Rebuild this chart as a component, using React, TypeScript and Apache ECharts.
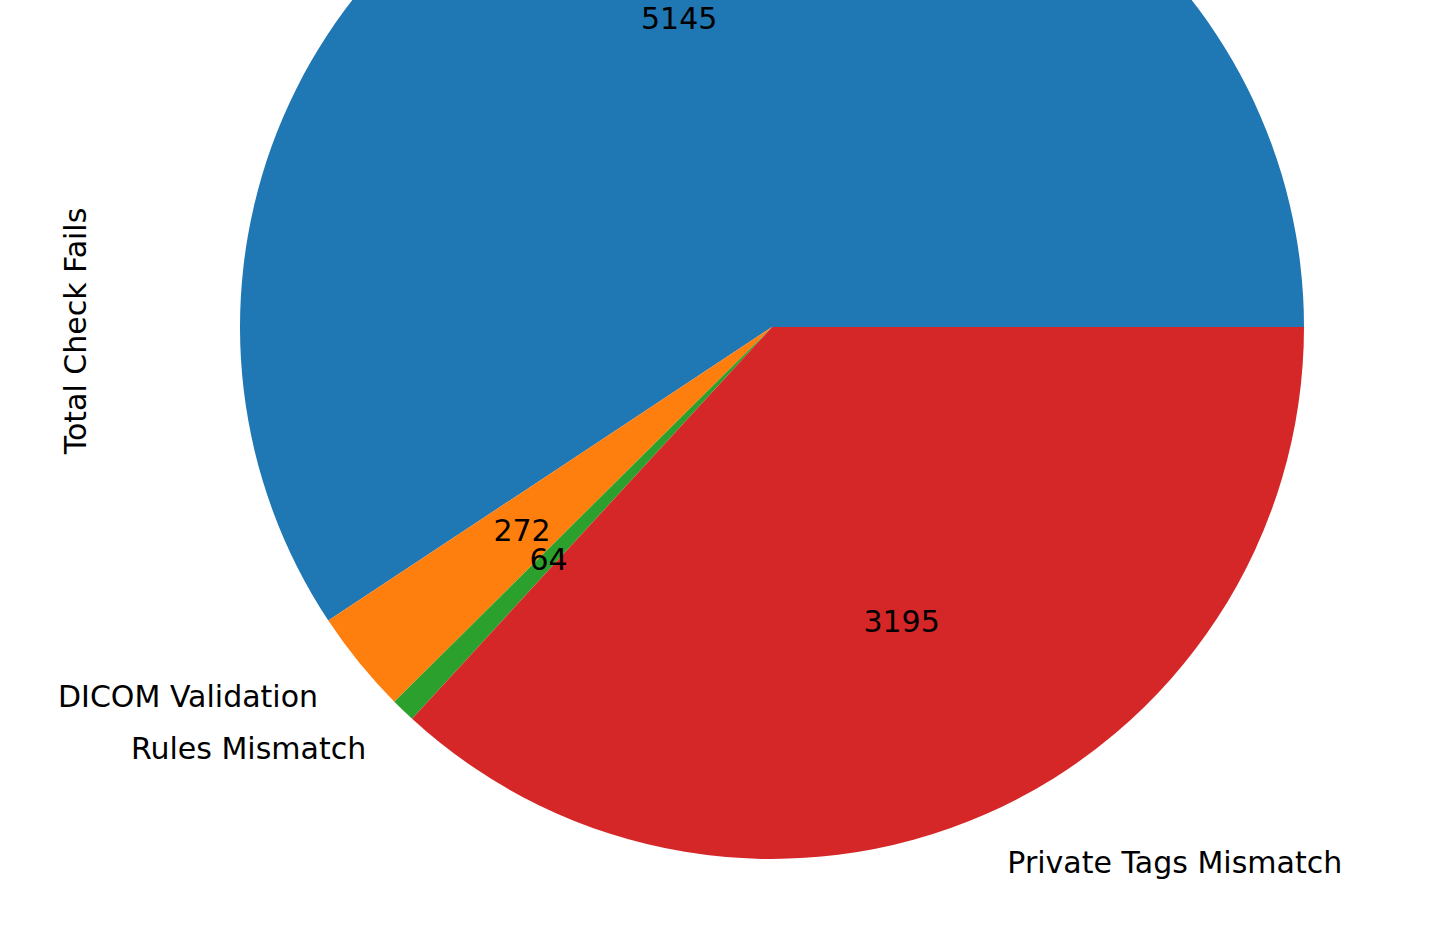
import React, { useEffect, useRef } from "react";
import * as echarts from "echarts";

const categories = ["", "DICOM Validation", "Rules Mismatch", "Private Tags Mismatch"];
const values = [5145, 272, 64, 3195];
const colors = ["#1f77b4", "#ff7f0e", "#2ca02c", "#d62728"];
const yLabel = "Total Check Fails";

const FONT = "DejaVu Sans";
const FS = 30;
const CX = 772;
const CY = 327;
const R = 532;

export default function App() {
  const ref = useRef<HTMLDivElement>(null);
  useEffect(() => {
    if (!ref.current) return;
    const chart = echarts.init(ref.current, null, { renderer: "svg" });
    const mainData = categories.map((name, i) => ({
      name,
      value: values[i],
      itemStyle: { color: colors[i] },
      label: { show: name !== "" },
    }));
    const valueData = categories.map((name, i) => ({
      name: name || "n" + i,
      value: values[i],
    }));
    chart.setOption({
      animation: false,
      backgroundColor: "#ffffff",
      series: [
        {
          type: "pie",
          center: [CX, CY],
          radius: R,
          startAngle: 0,
          clockwise: false,
          avoidLabelOverlap: false,
          silent: true,
          itemStyle: { borderWidth: 0 },
          label: {
            position: "outside",
            formatter: "{b}",
            fontFamily: FONT,
            fontSize: FS,
            color: "#000000",
            distanceToLabelLine: 0,
          },
          labelLine: { show: false, length: R * 0.1, length2: 0 },
          labelLayout: { hideOverlap: false },
          data: mainData,
        },
        {
          type: "pie",
          center: [CX, CY],
          radius: [R * 0.5, R * 0.7],
          startAngle: 0,
          clockwise: false,
          avoidLabelOverlap: false,
          silent: true,
          itemStyle: { color: "rgba(0,0,0,0)", borderWidth: 0 },
          label: {
            position: "inside",
            formatter: "{c}",
            fontFamily: FONT,
            fontSize: FS,
            lineHeight: FS,
            color: "#000000",
          },
          labelLine: { show: false },
          labelLayout: { hideOverlap: false },
          data: valueData,
        },
      ],
      graphic: [
        {
          type: "text",
          x: 75,
          y: 331,
          rotation: Math.PI / 2,
          style: {
            text: yLabel,
            font: `${FS}px "${FONT}"`,
            fill: "#000000",
            textAlign: "center",
            textVerticalAlign: "middle",
          },
        },
      ],
    });
    return () => chart.dispose();
  }, []);
  return (
    <div
      ref={ref}
      style={{ position: "absolute", left: 0, top: 0, width: 1435, height: 948 }}
    />
  );
}
